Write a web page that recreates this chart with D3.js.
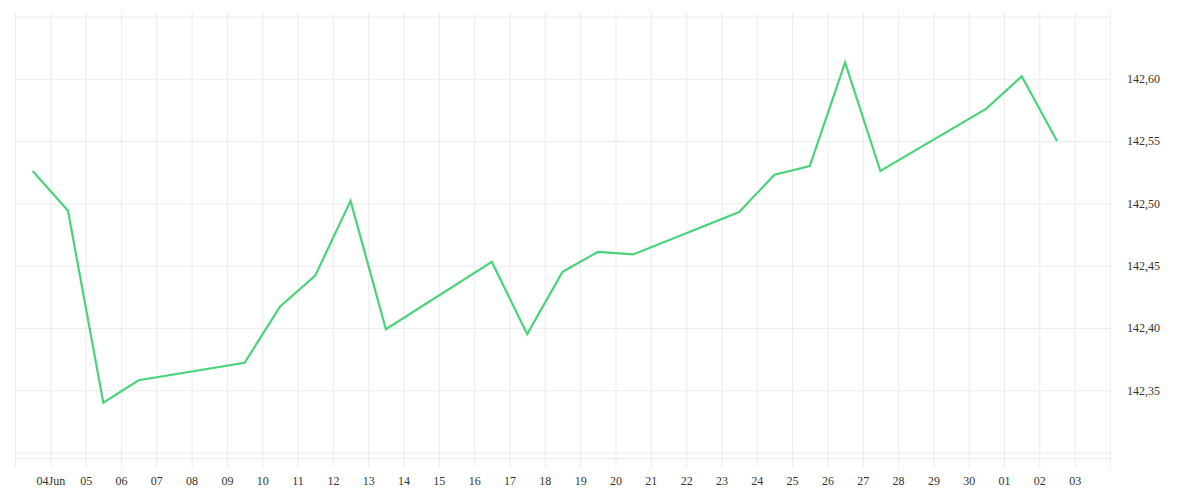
<!DOCTYPE html>
<html>
<head>
<meta charset="utf-8">
<script src="https://cdn.jsdelivr.net/npm/d3@7"></script>
<style>
  body { margin: 0; background: #fff; }
  text { font-family: "Liberation Serif", serif; }
</style>
</head>
<body>
<script>
// daily closes
var dates = ["2024-06-03", "2024-06-04", "2024-06-05", "2024-06-06", "2024-06-09",
             "2024-06-10", "2024-06-11", "2024-06-12", "2024-06-13", "2024-06-16",
             "2024-06-17", "2024-06-18", "2024-06-19", "2024-06-20", "2024-06-23",
             "2024-06-24", "2024-06-25", "2024-06-26", "2024-06-27", "2024-06-30",
             "2024-07-01", "2024-07-02"];
var values = [142.526, 142.494, 142.340, 142.358, 142.372,
              142.417, 142.442, 142.502, 142.399, 142.453,
              142.395, 142.445, 142.461, 142.459, 142.493,
              142.523, 142.530, 142.613, 142.526, 142.576,
              142.602, 142.550];
var yTicks = [142.30, 142.35, 142.40, 142.45, 142.50, 142.55, 142.60, 142.65];
var xStart = "2024-06-03";
var xEnd = "2024-07-04";

var w = 1200;
var h = 500;
var plotLeft = 15, plotRight = 1110;
var plotTop = 16.5, plotBottom = 452.5;
var gridTop = 12, gridBottom = 468;
var gridColor = "#ececec";
var textColor = "#333";

var parse = d3.timeParse("%Y-%m-%d");
var data = dates.map(function(d, i) {
	return { date: d3.timeHour.offset(parse(d), 12), value: values[i] };
});

var svg = d3.select("body")
	.append("svg")
	.attr("width", w)
	.attr("height", h);

var x = d3.scaleTime()
	.domain([parse(xStart), parse(xEnd)])
	.range([plotLeft, plotRight]);

var y = d3.scaleLinear()
	.domain([yTicks[0], yTicks[yTicks.length - 1]])
	.range([plotBottom, plotTop]);

var days = d3.timeDay.range(parse(xStart), d3.timeDay.offset(parse(xEnd), 1));
var fmtFirst = d3.timeFormat("%d%b");
var fmtDay = d3.timeFormat("%d");

// vertical grid + day labels
var xAxis = svg.append("g")
	.attr("transform", "translate(0," + gridBottom + ")")
	.call(d3.axisBottom(x)
		.tickValues(days)
		.tickSize(-(gridBottom - gridTop))
		.tickPadding(8)
		.tickFormat(function(d, i) {
			if (i === 0 || i === days.length - 1) return "";
			return i === 1 ? fmtFirst(d) : fmtDay(d);
		}));
xAxis.select(".domain").remove();
xAxis.selectAll("line").attr("stroke", gridColor);
xAxis.selectAll("text")
	.attr("fill", textColor)
	.attr("font-size", "12px")
	.attr("font-family", "Liberation Serif, serif");

// horizontal grid + price labels
var yAxis = svg.append("g")
	.attr("transform", "translate(" + plotRight + ",0)")
	.call(d3.axisRight(y)
		.tickValues(yTicks)
		.tickSize(-(plotRight - plotLeft))
		.tickPadding(17)
		.tickFormat(function(d, i) {
			if (i === 0 || i === yTicks.length - 1) return "";
			return d.toFixed(2).replace(".", ",");
		}));
yAxis.select(".domain").remove();
yAxis.selectAll("line").attr("stroke", gridColor);
yAxis.selectAll("text")
	.attr("fill", textColor)
	.attr("font-size", "12px")
	.attr("font-family", "Liberation Serif, serif");

// bottom edge of the plot
svg.append("line")
	.attr("x1", plotLeft)
	.attr("x2", plotRight)
	.attr("y1", plotBottom + 6)
	.attr("y2", plotBottom + 6)
	.attr("stroke", gridColor);

// price line
var line = d3.line()
	.x(function(d) { return x(d.date); })
	.y(function(d) { return y(d.value); });

svg.append("path")
	.datum(data)
	.attr("fill", "none")
	.attr("stroke", "#4ad37b")
	.attr("stroke-width", 2.2)
	.attr("stroke-linejoin", "miter")
	.attr("d", line);
</script>
</body>
</html>
